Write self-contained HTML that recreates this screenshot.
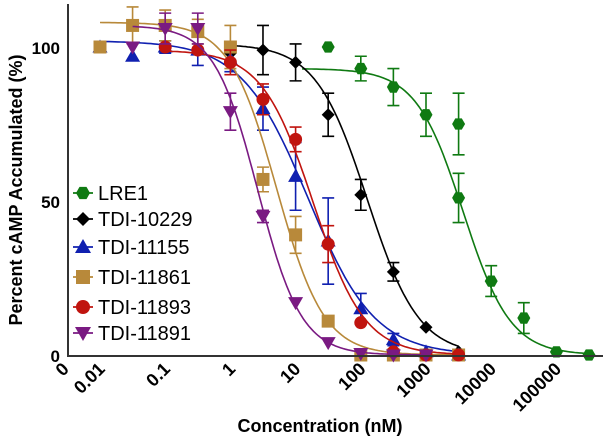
<!DOCTYPE html>
<html><head><meta charset="utf-8"><style>
body{margin:0;background:#fff}
svg{display:block;font-family:"Liberation Sans",Arial,sans-serif}
</style></head><body>
<svg id="chart" width="603" height="440" viewBox="0 0 603 440" xmlns="http://www.w3.org/2000/svg">
<g id="plot"></g>
<g id="xaxis">
<line x1="68" y1="356" x2="603" y2="356" stroke="#333" stroke-width="2"/>
<text transform="translate(70,370) rotate(-45)" text-anchor="end" font-size="18" font-weight="bold">0</text>
<text x="320" y="432" font-size="18" font-weight="bold" text-anchor="middle">Concentration (nM)</text>
</g>
<g>
<line x1="68" y1="4" x2="68" y2="357" stroke="#333" stroke-width="2"/>
<g font-size="17" font-weight="bold" text-anchor="end">
<text x="60" y="362">0</text>
<text x="60" y="208">50</text>
<text x="60" y="54">100</text>
</g>
<text transform="translate(22,190) rotate(-90)" font-size="18" font-weight="bold" text-anchor="middle">Percent cAMP Accumulated (%)</text>
</g>
<g id="legend"></g>
</svg>
<script>
const names = ["LRE1","TDI-10229","TDI-11155","TDI-11861","TDI-11893","TDI-11891"];
const colors = ["#0f7a12","#000000","#1020b0","#b8893a","#c0140f","#7a1a82"];
const shapes = ["hex","diamond","tri","square","circle","tridown"];
const xTickValues = [0.01,0.1,1,10,100,1000,10000,100000];
const xTickLabels = ["0.01","0.1","1","10","100","1000","10000","100000"];
// concentrations in nM (half-log dilutions)
const concs = {
 "LRE1":[31.6,100,316,1000,3162,3162,10000,31623,100000,316228],
 "TDI-10229":[1,3.16,10,31.6,100,316,1000,3162],
 "TDI-11155":[0.01,0.0316,0.1,0.316,1,3.16,10,31.6,100,316,1000,3162],
 "TDI-11861":[0.01,0.0316,0.1,0.316,1,3.16,10,31.6,100,316,1000,3162],
 "TDI-11893":[0.1,0.316,1,3.16,10,31.6,100,316,1000,3162],
 "TDI-11891":[0.0316,0.1,0.316,1,3.16,10,31.6,100,316,1000]
};
const vals = {
 "LRE1":[100,93,87,78,75,51,24,12,1,0],
 "TDI-10229":[98,99,95,78,52,27,9,1],
 "TDI-11155":[100,97,100,99,96,80,58,37,15,5,1,0],
 "TDI-11861":[100,107,107,105,100,57,39,11,0,0,0,0],
 "TDI-11893":[100,99,95,83,70,36,10.5,1,0,0],
 "TDI-11891":[100,106,106,79,45,17,4,0.5,0,0]
};
const errs = {
 "LRE1":[0,4,6,7,10,8,5,5,0,0],
 "TDI-10229":[3,8,6,7,5,3,0,0],
 "TDI-11155":[1,0,2,5,4,7,11,14,5,2,0,0],
 "TDI-11861":[0,6,5,4,7,4,6,0,0,0,0,0],
 "TDI-11893":[0,0,4,5,4,6,0,0,0,0],
 "TDI-11891":[0,5,5,6,2,0,0,0,0,0]
};
// 4PL fit parameters
const fitTop = [93,101,102,108,99,107];
const fitBottom = [0,0,0,0,0,0];
const fitLogIC50 = [3.57,2.1,1.19,0.71,1.27,0.42];
const fitHill = [1.2,1.1,0.85,1.2,1.1,1.3];

const NS="http://www.w3.org/2000/svg";
function xs(c){return 100 + 65.2*(Math.log10(c)+2);}
function ys(v){return 355 - 3.08*v;}
function mk(tag,attrs,parent){const e=document.createElementNS(NS,tag);for(const k in attrs)e.setAttribute(k,attrs[k]);parent.appendChild(e);return e;}
function marker(shape,x,y,col,parent,r){
 r=r||6.5;let e;
 if(shape==="circle") e=mk("circle",{cx:x,cy:y,r:r,fill:col},parent);
 else if(shape==="hex"){let p=[];for(let i=0;i<6;i++){const a=Math.PI/3*i;p.push((x+r*Math.cos(a)).toFixed(1)+","+(y+r*Math.sin(a)).toFixed(1));}e=mk("polygon",{points:p.join(" "),fill:col},parent);}
 else if(shape==="diamond") e=mk("polygon",{points:`${x},${y-r} ${x+r},${y} ${x},${y+r} ${x-r},${y}`,fill:col},parent);
 else if(shape==="square") e=mk("rect",{x:x-r,y:y-r,width:2*r,height:2*r,fill:col},parent);
 else if(shape==="tri") e=mk("polygon",{points:`${x},${y-r-1} ${x+r+1},${y+r-1} ${x-r-1},${y+r-1}`,fill:col},parent);
 else e=mk("polygon",{points:`${x},${y+r+1} ${x+r+1},${y-r+1} ${x-r-1},${y-r+1}`,fill:col},parent);
 return e;
}
const xaxis=document.getElementById("xaxis");
xTickValues.forEach((v,i)=>{
 const t=mk("text",{transform:`translate(${(xs(v)+6).toFixed(1)},370) rotate(-45)`,"text-anchor":"end","font-size":18,"font-weight":"bold"},xaxis);
 
 
 t.textContent=xTickLabels[i];
});
const plot=document.getElementById("plot");
const legend=document.getElementById("legend");
const legendY=[193,219,247,277,307,333];
names.forEach((n,si)=>{
 const g=mk("g",{},plot);
 
 
 const col=colors[si];const cs=concs[n];
 const lo=Math.log10(cs[0])-(si===0?0.4:0),hi=Math.log10(cs[cs.length-1]);
 let d="";
 for(let i=0;i<=120;i++){const lc=lo+(hi-lo)*i/120;
  const v=fitBottom[si]+(fitTop[si]-fitBottom[si])/(1+Math.pow(10,(lc-fitLogIC50[si])*fitHill[si]));
  d+=(i?"L":"M")+xs(Math.pow(10,lc)).toFixed(1)+","+ys(v).toFixed(1);}
 const path=mk("path",{d:d,fill:"none",stroke:col,"stroke-width":1.6},g);
 
 
 cs.forEach((c,i)=>{
  const x=xs(c),y=ys(vals[n][i]),e=errs[n][i];
  if(e>0){
   const eb=mk("path",{d:`M${x},${ys(vals[n][i]-e)}V${ys(vals[n][i]+e)}M${x-6},${ys(vals[n][i]-e)}h12M${x-6},${ys(vals[n][i]+e)}h12`,stroke:col,"stroke-width":1.6,fill:"none"},g);
   
   
  }
  const m=marker(shapes[si],x,y,col,g);
  
  
 });
 const lg=mk("g",{},legend);
 
 
 const ly=legendY[si];
 mk("line",{x1:73,y1:ly,x2:93,y2:ly,stroke:col,"stroke-width":1.8},lg);
 marker(shapes[si],83,ly,col,lg,7);
 const t=mk("text",{x:98,y:ly+7,"font-size":20,fill:"#000"},lg);
 t.textContent=n;
});
</script>
</body></html>
